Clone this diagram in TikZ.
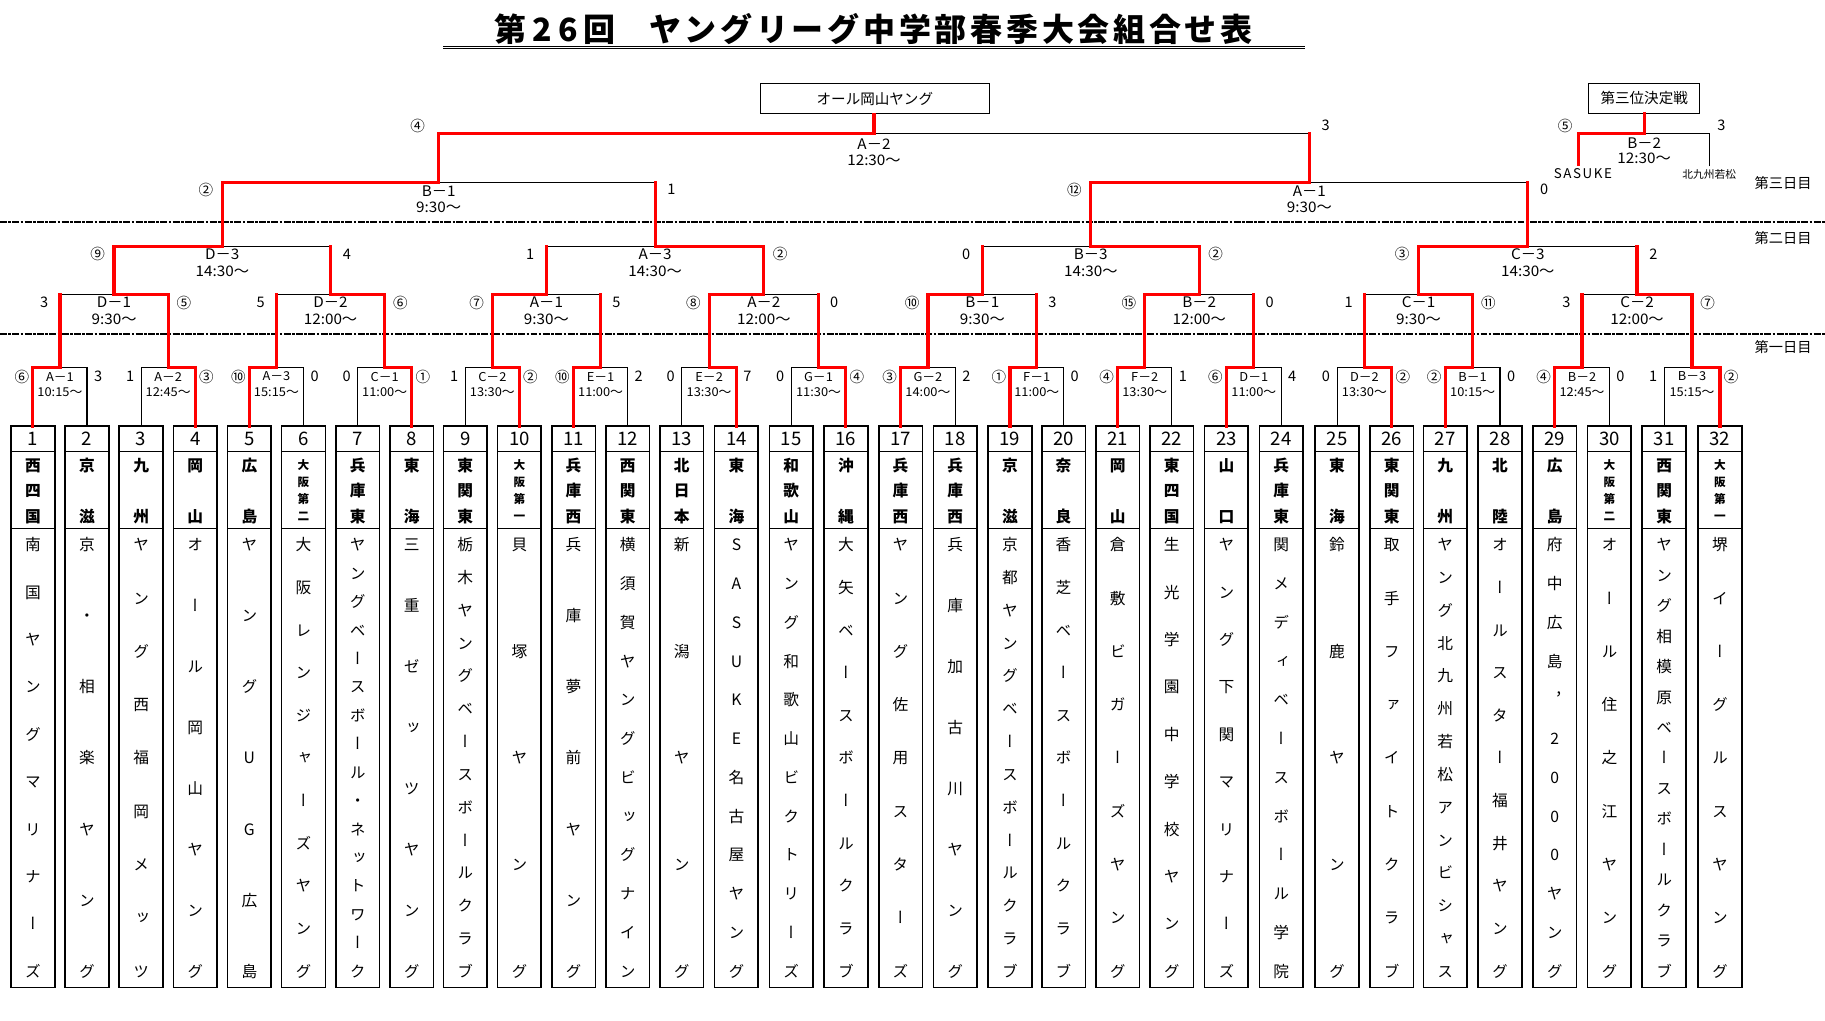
\documentclass[tikz,border=0pt]{standalone}
\usepackage{fontspec}
\usetikzlibrary{calc}
\setmainfont{Noto Sans CJK JP}
\newfontfamily\jp{Noto Sans CJK JP}
\newfontfamily\vfont[RawFeature=+vert]{Noto Sans CJK JP}
\newfontfamily\lblfont[FakeStretch=1.05]{Noto Sans CJK JP}
\newfontfamily\titlefont[LetterSpace=11.6]{Noto Sans CJK JP}
\newfontfamily\spfont[LetterSpace=12]{Noto Sans CJK JP}

\newcount\vtn \newcount\vti
\makeatletter
\def\vtext#1#2#3#4#5{%
  \global\vtn=0 \vt@count#5\relax
  \global\vti=0
  \tikzset{vcur/.style={#1}}%
  \def\vt@x{#2}\def\vt@ya{#3}\def\vt@yb{#4}%
  \vt@place#5\relax}
\def\vt@count#1{\ifx\relax#1\else\global\advance\vtn by 1 \expandafter\vt@count\fi}
\def\vt@place#1{\ifx\relax#1\else
  \global\advance\vti by 1
  \pgfmathsetmacro\vt@y{\vt@ya+(\vti-1)*(\vt@yb-\vt@ya)/(\vtn-1)}%
  \node[vcur] at (\vt@x,\vt@y) {#1};%
  \expandafter\vt@place\fi}
\makeatother

\newcommand\team[5]{%
  \node[teambox] (t#1) at (#2+18.75,607.25) {};
  \draw[divl] (#2,387.5) -- (#2+37.5,387.5);
  \draw[divl] (#2,454) -- (#2+37.5,454);
  \node[numf] at (#2+18.75,377) {#1};
  \vtext{#3}{#2+18.75}{400}{443.5}{#4}%
  \vtext{nmch}{#2+18.75}{468}{834.5}{#5}%
}

\newcommand\game[8]{%
  \coordinate (#1-m) at ($(#2)!0.5!(#3)$);
  \coordinate (#1) at (#1-m |- #4);
  \coordinate (#1-L) at (#2 |- #4);
  \coordinate (#1-R) at (#3 |- #4);
  \if#5L\def\gw{#2}\def\gl{#3}\def\gwc{#1-L}\def\glc{#1-R}%
  \else\def\gw{#3}\def\gl{#2}\def\gwc{#1-R}\def\glc{#1-L}\fi
  \ifnum#6=1 \draw[lose] (\gl) -- (\glc) -- (#1);%
  \else \draw[lose] (\glc) -- (#1); \draw[win] (\gl) -- (\glc);\fi
  \draw[win] (\gw) -- (\gwc) -- (#1);
  \node[lb] at ([yshift=\nmy pt]#1) {#7};
  \node[lb] at ([yshift=\tmy pt]#1) {#8};
}
\newcommand\sco[3]{%
  \node[sc] at ([xshift=\soxl pt,yshift=\soy pt]#1-L) {#2};
  \node[sc] at ([xshift=\soxr pt,yshift=\soy pt]#1-R) {#3};
}

\tikzset{
  win/.style={draw=red, line width=2.7pt, line cap=rect},
  lose/.style={draw=black, line width=0.9pt},
  teambox/.style={draw, line width=1.4pt, minimum width=37.5pt, minimum height=482.5pt, inner sep=0pt, outer sep=0pt},
  divl/.style={line width=0.8pt},
  numf/.style={font=\jp\fontsize{16}{16}\selectfont, inner sep=0pt},
  pf/.style={font=\jp\bfseries\fontsize{13.5}{13.5}\selectfont, inner sep=0pt, text height=11.9pt, text depth=1.6pt},
  pfs/.style={font=\jp\bfseries\fontsize{10}{10}\selectfont, inner sep=0pt, text height=8.8pt, text depth=1.2pt},
  nmch/.style={font=\vfont\fontsize{13.5}{13.5}\selectfont, inner sep=0pt, text height=11.9pt, text depth=1.6pt},
  lb/.style={font=\lblfont\fontsize{\lfs}{\lfs}\selectfont, inner sep=0pt},
  sc/.style={font=\jp\fontsize{12.5}{12.5}\selectfont, inner sep=0pt},
  hdbox/.style={draw, line width=0.9pt, inner sep=0pt, font=\jp\fontsize{12.5}{12.5}\selectfont},
  daylbl/.style={font=\jp\fontsize{12.2}{12.2}\selectfont, inner sep=0pt},
  dayline/.style={line width=1.8pt, dash pattern=on 6pt off 1.2pt on 2.2pt off 1.2pt},
}

\begin{document}
\begin{tikzpicture}[x=1pt, y=-1pt]
\fill[white] (0,0) rectangle (1568,877);
\useasboundingbox (0,0) rectangle (1568,877);

% title
\node[font=\titlefont\bfseries\fontsize{27.5}{30}\selectfont, inner sep=0pt, anchor=west] (title) at (425,25) {第\kern5pt 2\kern5pt 6\kern5pt 回\kern29pt ヤングリーグ中学部春季大会組合せ表};
\coordinate (ulA) at (380.8,39.8); \coordinate (ulB) at (1121,39.8);
\coordinate (ulC) at (380.8,42); \coordinate (ulD) at (1121,42);
\draw[line width=0.8pt] (ulA) -- (ulB) (ulC) -- (ulD);

% day separators
\coordinate (d3a) at (0,190.4); \coordinate (d3b) at (1568,190.4);
\coordinate (d2a) at (0,286.7); \coordinate (d2b) at (1568,286.7);
\draw[dayline] (d3a) -- (d3b);
\draw[dayline] (d2a) -- (d2b);
\node[daylbl] (day3) at (1532,157.5) {第三日目};
\node[daylbl] (day2) at (1532,204.8) {第二日目};
\node[daylbl] (day1) at (1532,298.4) {第一日目};

% header boxes
\node[hdbox, minimum width=196.3pt, minimum height=26.2pt] (champ) at (751.65,84.7) {オール岡山ヤング};
\node[hdbox, minimum width=95pt, minimum height=25.8pt] (third) at (1412.65,84.5) {第三位決定戦};

% teams
\team{1}{9.5}{pf}{西四国}{南国ヤングマリナーズ}
\team{2}{56}{pf}{京滋}{京・相楽ヤング}
\team{3}{102.5}{pf}{九州}{ヤング西福岡メッツ}
\team{4}{149}{pf}{岡山}{オール岡山ヤング}
\team{5}{195.5}{pf}{広島}{ヤングUG広島}
\team{6}{242}{pfs}{大阪第二}{大阪レンジャーズヤング}
\team{7}{288.5}{pf}{兵庫東}{ヤングベースボール・ネットワーク}
\team{8}{335}{pf}{東海}{三重ゼッツヤング}
\team{9}{381}{pf}{東関東}{栃木ヤングベースボールクラブ}
\team{10}{427.5}{pfs}{大阪第一}{貝塚ヤング}
\team{11}{474}{pf}{兵庫西}{兵庫夢前ヤング}
\team{12}{520.5}{pf}{西関東}{横須賀ヤングビッグナイン}
\team{13}{567}{pf}{北日本}{新潟ヤング}
\team{14}{614}{pf}{東海}{SASUKE名古屋ヤング}
\team{15}{661}{pf}{和歌山}{ヤング和歌山ビクトリーズ}
\team{16}{708}{pf}{沖縄}{大矢ベースボールクラブ}
\team{17}{755}{pf}{兵庫西}{ヤング佐用スターズ}
\team{18}{802}{pf}{兵庫西}{兵庫加古川ヤング}
\team{19}{849}{pf}{京滋}{京都ヤングベースボールクラブ}
\team{20}{895}{pf}{奈良}{香芝ベースボールクラブ}
\team{21}{941.5}{pf}{岡山}{倉敷ビガーズヤング}
\team{22}{988}{pf}{東四国}{生光学園中学校ヤング}
\team{23}{1035}{pf}{山口}{ヤング下関マリナーズ}
\team{24}{1082}{pf}{兵庫東}{関メディベースボール学院}
\team{25}{1130}{pf}{東海}{鈴鹿ヤング}
\team{26}{1177}{pf}{東関東}{取手ファイトクラブ}
\team{27}{1223}{pf}{九州}{ヤング北九州若松アンビシャス}
\team{28}{1270}{pf}{北陸}{オールスター福井ヤング}
\team{29}{1317}{pf}{広島}{府中広島，2000ヤング}
\team{30}{1364}{pfs}{大阪第二}{オール住之江ヤング}
\team{31}{1411}{pf}{西関東}{ヤング相模原ベースボールクラブ}
\team{32}{1459}{pfs}{大阪第一}{堺イーグルスヤング}

% level lines
\coordinate (y1) at (0,316);
\coordinate (y2) at (0,253);
\coordinate (y3) at (0,211.5);
\coordinate (y4) at (0,157);
\coordinate (y5) at (0,115);

% round 1
\def\lfs{10.5}\def\nmy{-7.5}\def\tmy{-21}\def\soy{-7.5}\def\soxl{-9.5}\def\soxr{9.5}
\game{a1}{t1.north}{t2.north}{y1}{L}{1}{A－1}{10:15～}\sco{a1}{⑥}{3}
\game{a2}{t3.north}{t4.north}{y1}{R}{1}{A－2}{12:45～}\sco{a2}{1}{③}
\game{a3}{t5.north}{t6.north}{y1}{L}{1}{A－3}{15:15～}\sco{a3}{⑩}{0}
\game{a4}{t7.north}{t8.north}{y1}{R}{1}{C－1}{11:00～}\sco{a4}{0}{①}
\game{a5}{t9.north}{t10.north}{y1}{R}{1}{C－2}{13:30～}\sco{a5}{1}{②}
\game{a6}{t11.north}{t12.north}{y1}{L}{1}{E－1}{11:00～}\sco{a6}{⑩}{2}
\game{a7}{t13.north}{t14.north}{y1}{R}{1}{E－2}{13:30～}\sco{a7}{0}{7}
\game{a8}{t15.north}{t16.north}{y1}{R}{1}{G－1}{11:30～}\sco{a8}{0}{④}
\game{a9}{t17.north}{t18.north}{y1}{L}{1}{G－2}{14:00～}\sco{a9}{③}{2}
\game{a10}{t19.north}{t20.north}{y1}{L}{1}{F－1}{11:00～}\sco{a10}{①}{0}
\game{a11}{t21.north}{t22.north}{y1}{L}{1}{F－2}{13:30～}\sco{a11}{④}{1}
\game{a12}{t23.north}{t24.north}{y1}{L}{1}{D－1}{11:00～}\sco{a12}{⑥}{4}
\game{a13}{t25.north}{t26.north}{y1}{R}{1}{D－2}{13:30～}\sco{a13}{0}{②}
\game{a14}{t27.north}{t28.north}{y1}{L}{1}{B－1}{10:15～}\sco{a14}{②}{0}
\game{a15}{t29.north}{t30.north}{y1}{L}{1}{B－2}{12:45～}\sco{a15}{④}{0}
\game{a16}{t31.north}{t32.north}{y1}{R}{1}{B－3}{15:15～}\sco{a16}{1}{②}

% round 2
\def\lfs{12.5}\def\nmy{-7}\def\tmy{-21}\def\soy{-7}\def\soxl{-13.5}\def\soxr{13.5}
\game{b1}{a1}{a2}{y2}{R}{0}{D－1}{9:30～}\sco{b1}{3}{⑤}
\game{b2}{a3}{a4}{y2}{R}{0}{D－2}{12:00～}\sco{b2}{5}{⑥}
\game{b3}{a5}{a6}{y2}{L}{0}{A－1}{9:30～}\sco{b3}{⑦}{5}
\game{b4}{a7}{a8}{y2}{L}{0}{A－2}{12:00～}\sco{b4}{⑧}{0}
\game{b5}{a9}{a10}{y2}{L}{0}{B－1}{9:30～}\sco{b5}{⑩}{3}
\game{b6}{a11}{a12}{y2}{L}{0}{B－2}{12:00～}\sco{b6}{⑮}{0}
\game{b7}{a13}{a14}{y2}{R}{0}{C－1}{9:30～}\sco{b7}{1}{⑪}
\game{b8}{a15}{a16}{y2}{R}{0}{C－2}{12:00～}\sco{b8}{3}{⑦}

% round 3
\def\nmy{-7}\def\tmy{-21.5}\def\soy{-7}\def\soxl{-14}\def\soxr{14}
\game{c1}{b1}{b2}{y3}{L}{0}{D－3}{14:30～}\sco{c1}{⑨}{4}
\game{c2}{b3}{b4}{y3}{R}{0}{A－3}{14:30～}\sco{c2}{1}{②}
\game{c3}{b5}{b6}{y3}{R}{0}{B－3}{14:30～}\sco{c3}{0}{②}
\game{c4}{b7}{b8}{y3}{L}{0}{C－3}{14:30～}\sco{c4}{③}{2}

% semifinals
\def\nmy{-7.5}\def\tmy{-21}\def\soy{-6}\def\soxl{-14}\def\soxr{14}
\game{d1}{c1}{c2}{y4}{L}{0}{B－1}{9:30～}\sco{d1}{②}{1}
\game{d2}{c3}{c4}{y4}{L}{0}{A－1}{9:30～}\sco{d2}{⑫}{0}

% final
\def\nmy{-9}\def\tmy{-23}\def\soy{7}\def\soxl{-18}\def\soxr{14}
\game{f}{d1}{d2}{y5}{L}{0}{A－2}{12:30～}\sco{f}{④}{3}
\draw[win] (f) -- (f |- champ.south);

% third place
\coordinate (sL) at (1356.3,141.5);
\coordinate (sR) at (1469,143);
\def\nmy{-7.6}\def\tmy{-21.3}\def\soy{7}\def\soxl{-11.5}\def\soxr{10}
\game{g}{sL}{sR}{y5}{L}{1}{B－2}{12:30～}\sco{g}{⑤}{3}
\draw[win] (g) -- (g |- third.south);
\node[font=\spfont\fontsize{11.5}{11.5}\selectfont, inner sep=0pt] (sasuke) at (1360,149.5) {SASUKE};
\node[font=\jp\fontsize{9.2}{9.2}\selectfont, inner sep=0pt] (kitaq) at (1468.5,149.5) {北九州若松};
\end{tikzpicture}
\end{document}
